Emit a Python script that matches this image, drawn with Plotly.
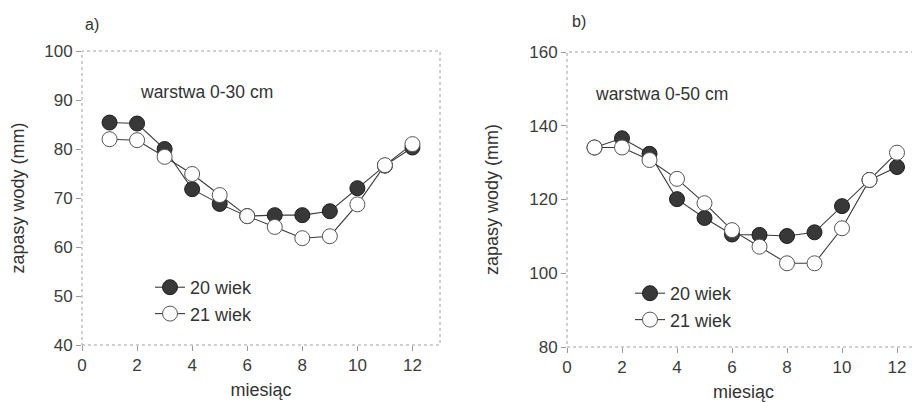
import plotly.graph_objects as go

months = list(range(1, 13))
a_20 = [85.4, 85.2, 80.0, 71.8, 68.8, 66.3, 66.5, 66.5, 67.3, 72.0, 76.6, 80.3]
a_21 = [82.0, 81.8, 78.4, 74.9, 70.6, 66.3, 64.1, 61.8, 62.2, 68.7, 76.7, 81.0]
b_20 = [134.1, 136.6, 132.4, 120.1, 115.0, 110.5, 110.4, 110.1, 111.1, 118.2, 125.3, 128.8]
b_21 = [134.1, 134.1, 130.7, 125.6, 119.0, 111.7, 107.2, 102.7, 102.7, 112.2, 125.3, 132.7]
series_names = ["20 wiek", "21 wiek"]
panel_labels = ["a)", "b)"]
layer_labels = ["warstwa 0-30 cm", "warstwa 0-50 cm"]
x_title = "miesiąc"
y_title = "zapasy wody (mm)"

# page body has an 8px default margin; size the figure to fit the window
OFF = 8
W, H = 920 - OFF, 402 - OFF
FONT = "Arial, Liberation Sans, sans-serif"
TXT = "#333333"

def fx(p):
    return (p - OFF) / W

def fy(p):
    return 1 - (p - OFF) / H

fig = go.Figure()

filled = dict(size=15, color="#383838", line=dict(color="#1e1e1e", width=1))
hollow = dict(size=15, color="#ffffff", line=dict(color="#555555", width=1))
line_style = dict(color="#3a3a3a", width=1.1)

fig.add_trace(go.Scatter(x=months, y=a_20, mode="lines+markers", name=series_names[0],
                         marker=filled, line=line_style, xaxis="x", yaxis="y", legend="legend"))
fig.add_trace(go.Scatter(x=months, y=a_21, mode="lines+markers", name=series_names[1],
                         marker=hollow, line=line_style, xaxis="x", yaxis="y", legend="legend"))
fig.add_trace(go.Scatter(x=months, y=b_20, mode="lines+markers", name=series_names[0],
                         marker=filled, line=line_style, xaxis="x2", yaxis="y2", legend="legend2"))
fig.add_trace(go.Scatter(x=months, y=b_21, mode="lines+markers", name=series_names[1],
                         marker=hollow, line=line_style, xaxis="x2", yaxis="y2", legend="legend2"))

axis_common = dict(
    showgrid=False, zeroline=False, showline=False, automargin=False,
    ticks="outside", ticklen=5, tickwidth=1, tickcolor="#999999",
    tickfont=dict(family=FONT, size=17, color="#3c3c3c"),
)
title_font = dict(family=FONT, size=18, color=TXT)
xticks = [0, 2, 4, 6, 8, 10, 12]

xa = dict(axis_common, domain=[fx(82), fx(440)], range=[0, 13], tickvals=xticks,
          title=dict(text=x_title, font=title_font, standoff=8))
xb = dict(axis_common, domain=[fx(567), 1.0], range=[0, (920 - 567) / 27.5], tickvals=xticks,
          title=dict(text=x_title, font=title_font, standoff=8))
ya = dict(axis_common, domain=[fy(345), fy(51)], range=[40, 100], tickvals=[40, 50, 60, 70, 80, 90, 100],
          title=dict(text=y_title, font=title_font, standoff=25))
yb = dict(axis_common, domain=[fy(347), fy(52)], range=[80, 160], tickvals=[80, 100, 120, 140, 160],
          title=dict(text=y_title, font=title_font, standoff=25))

legend_common = dict(xanchor="left", yanchor="top", bgcolor="rgba(0,0,0,0)",
                     font=dict(family=FONT, size=18, color=TXT), tracegroupgap=0, itemsizing="trace")

fig.update_layout(
    width=W, height=H,
    margin=dict(l=0, r=0, t=0, b=0, autoexpand=False),
    paper_bgcolor="white", plot_bgcolor="white",
    font=dict(family=FONT, size=17, color=TXT),
    xaxis=dict(xa, anchor="y"),
    yaxis=dict(ya, anchor="x"),
    xaxis2=dict(xb, anchor="y2"),
    yaxis2=dict(yb, anchor="x2"),
    legend=dict(legend_common, x=fx(150), y=fy(269)),
    legend2=dict(legend_common, x=fx(630), y=fy(275)),
    showlegend=True,
)

# dotted frames
for xr, yr in (("x domain", "y domain"), ("x2 domain", "y2 domain")):
    fig.add_shape(type="rect", xref=xr, yref=yr, x0=0, x1=1, y0=0, y1=1,
                  line=dict(color="#a0a0a0", width=1, dash="dot"), layer="below")

ann = [
    dict(text=panel_labels[0], x=fx(83), y=fy(25), size=16),
    dict(text=panel_labels[1], x=fx(570), y=fy(22), size=16),
    dict(text=layer_labels[0], x=fx(138), y=fy(92), size=17.5),
    dict(text=layer_labels[1], x=fx(593), y=fy(94), size=17.5),
]
for a in ann:
    fig.add_annotation(xref="paper", yref="paper", xanchor="left", yanchor="middle",
                       text=a["text"], x=a["x"], y=a["y"],
                       showarrow=False, font=dict(family=FONT, size=a["size"], color=TXT))

fig.write_html("out.html")
